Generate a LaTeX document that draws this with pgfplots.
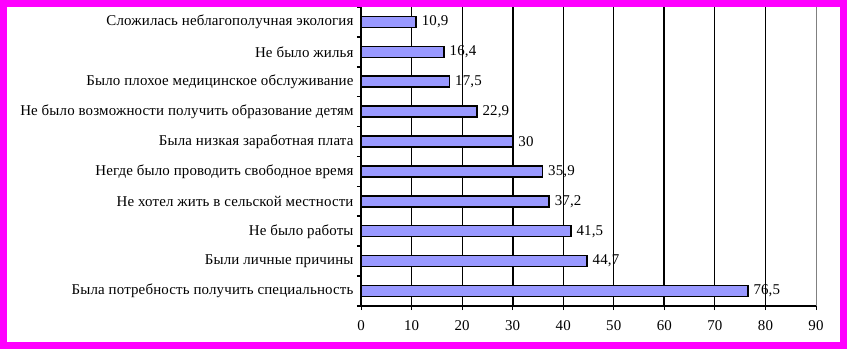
\documentclass[border=0pt]{standalone}
\usepackage{pgfplots}
\pgfplotsset{compat=1.18}
\usepackage{fontspec}
\setmainfont{Liberation Serif}
\newfontfamily\labfont[LetterSpace=1.0]{Liberation Serif}
\definecolor{barfill}{HTML}{9999FF}
\definecolor{framecol}{HTML}{FF00FF}
\begin{document}
\begin{tikzpicture}
\useasboundingbox (0,0) rectangle (847bp,349bp);
\fill[white] (0,0) rectangle (847bp,349bp);
\begin{axis}[
  at={(361bp,43bp)}, anchor=south west,
  width=455bp, height=299bp, scale only axis,
  xmin=0, xmax=90, ymin=0.5, ymax=10.5,
  xbar, bar width=11bp,
  axis x line*=bottom, axis y line*=left,
  axis line style={-},
  x axis line style={line width=1.2bp},
  y axis line style={line width=1.8bp},
  xtick={0,10,20,40,50,70,80,90},
  extra x ticks={30,60},
  xmajorgrids,
  major grid style={black, line width=1bp},
  extra x tick style={major grid style={black, line width=2.2bp}},
  tick align=outside, major tick length=4bp,
  tick style={black, line width=1bp},
  xticklabel style={yshift=-7bp},
  ytick={0.5,1.5,...,10.5}, yticklabels={},
  y tick style={line width=1.6bp},
  extra y ticks={1,...,10},
  extra y tick labels={
    Была потребность получить специальность,
    Были личные причины,
    Не было работы,
    Не хотел жить в сельской местности,
    Негде было проводить свободное время,
    Была низкая заработная плата,
    Не было возможности получить образование детям,
    Было плохое медицинское обслуживание,
    Не было жилья,
    Сложилась неблагополучная экология},
  extra y tick style={major tick length=0pt, ymajorgrids=false, yticklabel style={xshift=-4bp}},
  ticklabel style={font=\labfont\fontsize{15}{17}\selectfont},
  /pgf/number format/assume math mode=true,
  /pgf/number format/use comma,
  nodes near coords,
  every node near coord/.append style={font=\labfont\fontsize{15}{17}\selectfont, anchor=west, inner sep=0pt, xshift=5bp, black},
  clip=false,
]
\addplot[fill=barfill, draw=black, line width=1.5bp] coordinates {
  (76.5,1) (44.7,2) (41.5,3) (37.2,4) (35.9,5)
  (30,6) (22.9,7) (17.5,8) (16.4,9) (10.9,10)
};
\draw[gray, line width=1bp] (axis cs:90,0.5) -- (axis cs:90,10.5);
\end{axis}
\draw[framecol, line width=7bp] (3.5bp,3.5bp) rectangle (843.5bp,345.5bp);
\end{tikzpicture}
\end{document}
